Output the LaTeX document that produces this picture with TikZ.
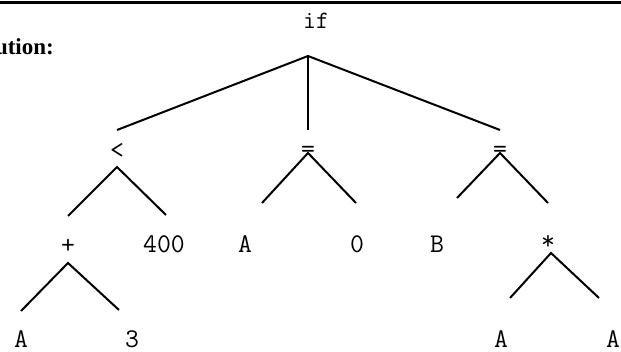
\documentclass[tikz,border=0pt]{standalone}
\usepackage{fontspec}
\setmainfont{Liberation Serif}
\begin{document}
\begin{tikzpicture}[x=1pt,y=-1pt,
  lab/.style={font=\ttfamily\fontsize{27}{27}\selectfont, inner sep=0pt, anchor=base},
  edge/.style={line width=2pt}]
\useasboundingbox (0,0) rectangle (621,352);
\coordinate (ruleL) at (0,2.5);
\coordinate (ruleR) at (621,2.5);
\draw[line width=2.5pt] (ruleL) -- (ruleR);
\node[anchor=base east, font=\bfseries\fontsize{23}{23}\selectfont, inner sep=0pt] (sol) at (54,55) {ution:};
% labels
\node[lab, font=\ttfamily\fontsize{25}{25}\selectfont] (if) at (316,29) {if};
\node[lab] (lt) at (117,159) {<};
\node[lab] (eqA) at (308,158) {=};
\node[lab] (eqB) at (500,158) {=};
\node[lab] (plus) at (68,254) {+};
\node[lab] (n400) at (164,253) {400};
\node[lab] (a1) at (245,253) {A};
\node[lab] (zero) at (357,253) {0};
\node[lab] (b) at (437,253) {B};
\node[lab] (star) at (548,250) {*};
\node[lab] (a2) at (21,348) {A};
\node[lab] (three) at (132,348) {3};
\node[lab] (a3) at (501,348) {A};
\node[lab] (a4) at (613,348) {A};
% edge points
\coordinate (ifT) at (308,56);
\coordinate (ltT) at (117,130);
\coordinate (eqAT) at (308,130);
\coordinate (eqBT) at (500,130);
\coordinate (ltB) at (117,167);
\coordinate (plusT) at (68,216);
\coordinate (n400T) at (166,215);
\coordinate (eqAB) at (308,153);
\coordinate (a1T) at (262,203);
\coordinate (zeroT) at (356,203);
\coordinate (eqBB) at (500,153);
\coordinate (bT) at (457,198);
\coordinate (starT) at (548,203);
\coordinate (plusB) at (68,263);
\coordinate (a2T) at (21,311);
\coordinate (threeT) at (119,310);
\coordinate (starB) at (551,253);
\coordinate (a3T) at (510,298);
\coordinate (a4T) at (599,298);
\draw[edge] (ltT) -- (ifT) -- (eqBT);
\draw[edge] (ifT) -- (eqAT);
\draw[edge] (plusT) -- (ltB) -- (n400T);
\draw[edge] (a1T) -- (eqAB) -- (zeroT);
\draw[edge] (bT) -- (eqBB) -- (starT);
\draw[edge] (a2T) -- (plusB) -- (threeT);
\draw[edge] (a3T) -- (starB) -- (a4T);
\end{tikzpicture}
\end{document}
